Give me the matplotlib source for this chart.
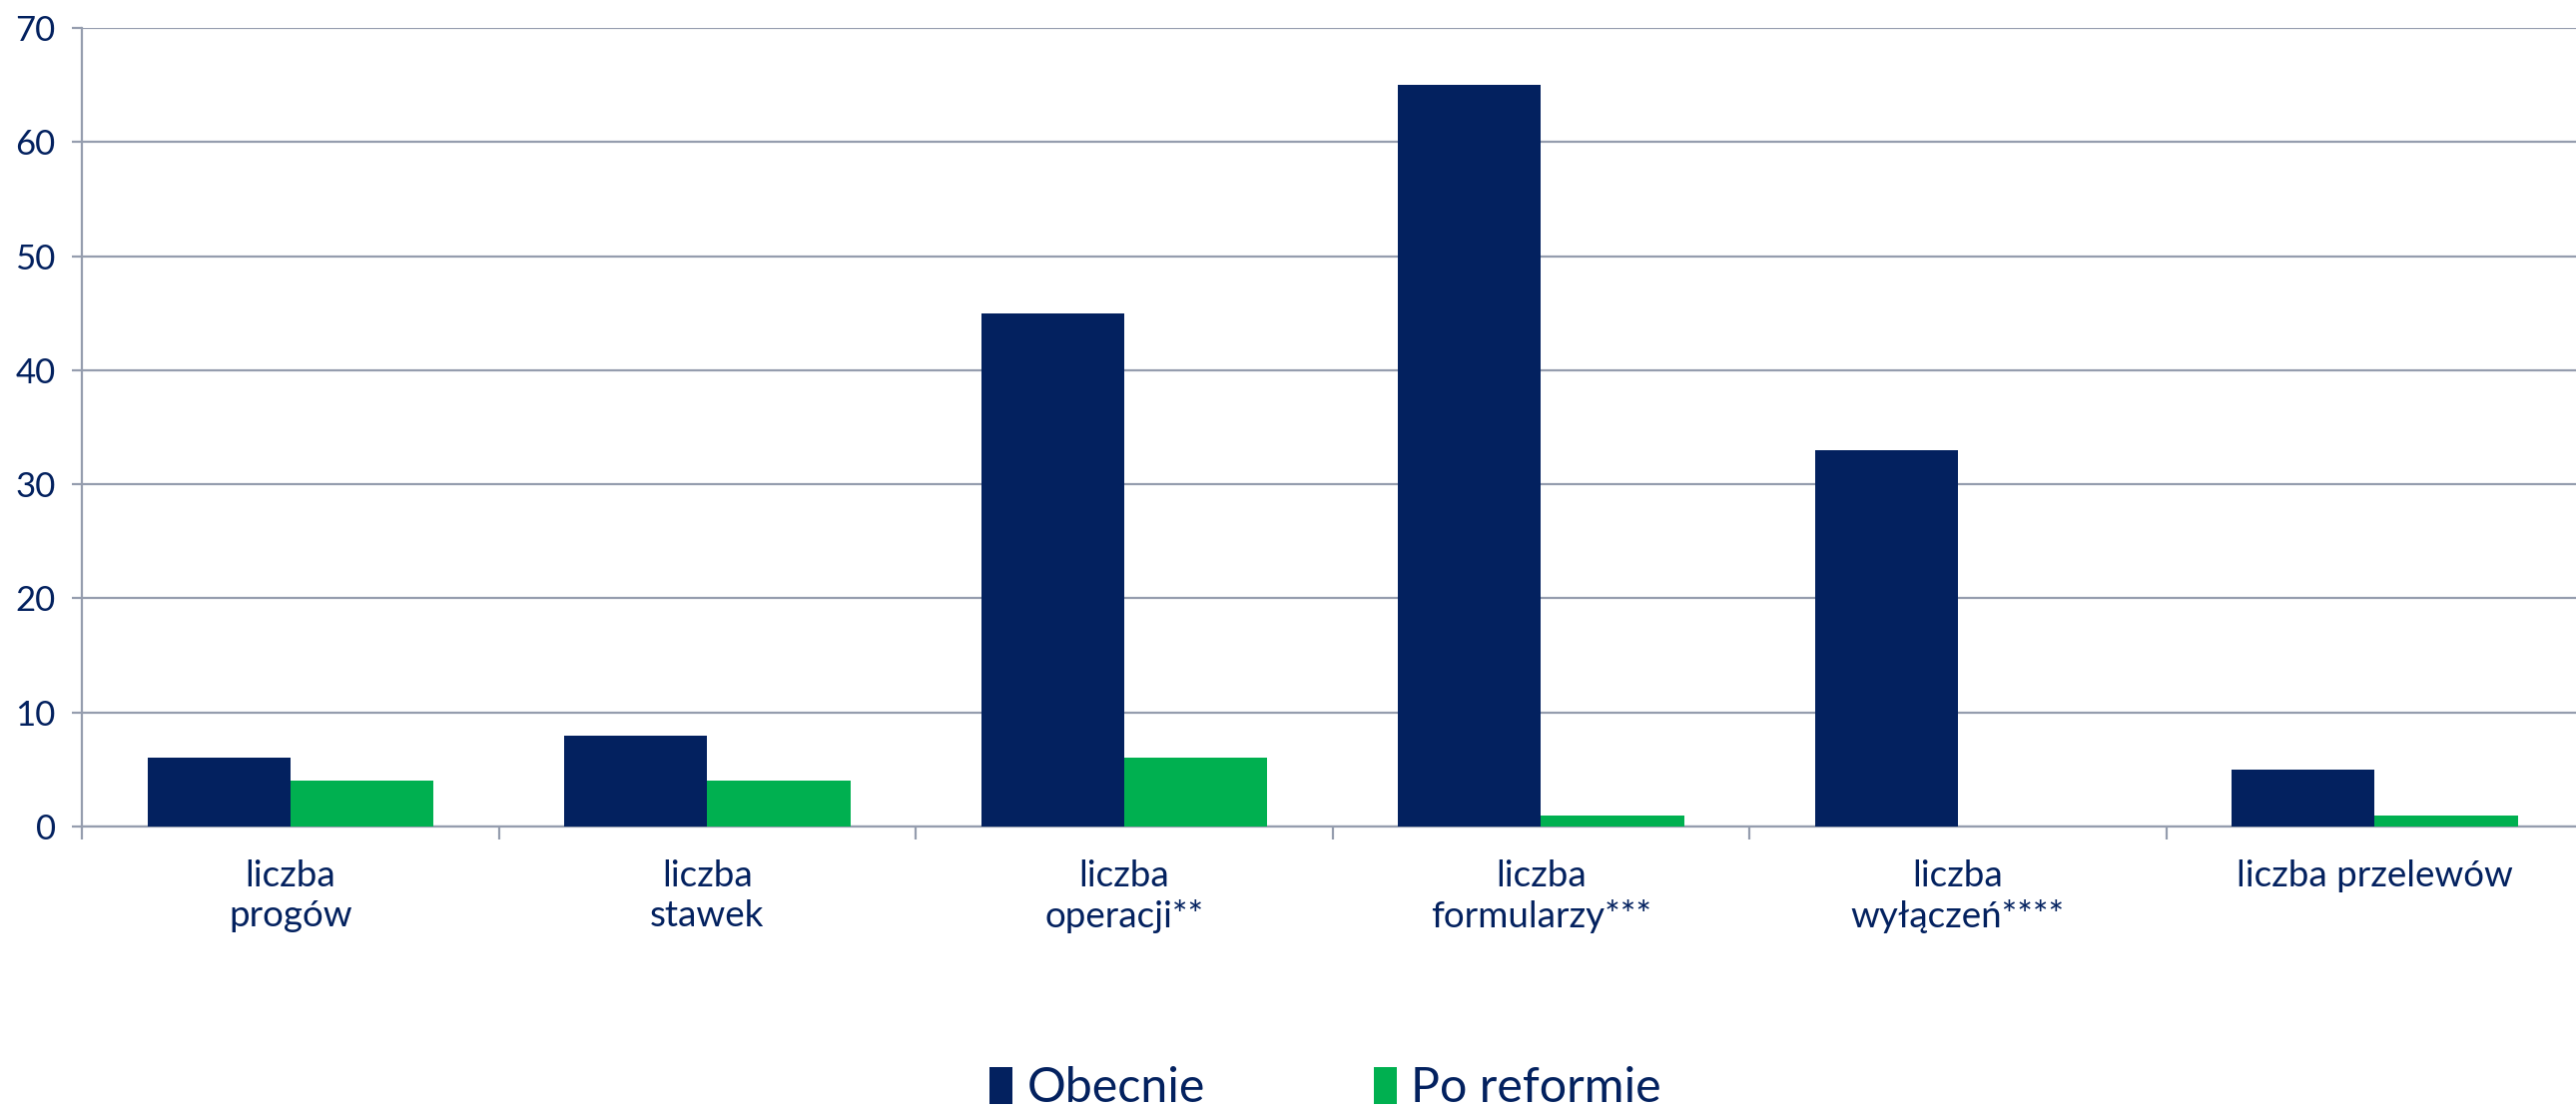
import matplotlib.pyplot as plt
import numpy as np

plt.rcParams['font.family'] = ['Lato', 'DejaVu Sans']

NAVY = '#03215F'
GREEN = '#00B050'
GRID = '#959DAE'

categories = ['liczba\nprogów', 'liczba\nstawek', 'liczba\noperacji**',
              'liczba\nformularzy***', 'liczba\nwyłączeń****', 'liczba przelewów']
obecnie = [6, 8, 45, 65, 33, 5]
po_reformie = [4, 4, 6, 1, 0, 1]
yticks = [0, 10, 20, 30, 40, 50, 60, 70]

fig = plt.figure(figsize=(25.8, 11.17), dpi=100)
ax = fig.add_axes([0.0318, 0.2587, 0.971, 0.7163])

x = np.arange(len(categories))
w = 0.343
b1 = ax.bar(x - w / 2, obecnie, w, color=NAVY, label='Obecnie', zorder=3)
b2 = ax.bar(x + w / 2, po_reformie, w, color=GREEN, label='Po reformie', zorder=3)

ax.set_xlim(-0.5, len(categories) - 0.5)
ax.set_ylim(0, 70)
ax.set_yticks(yticks)
ax.yaxis.grid(True, color=GRID, linewidth=1.6, zorder=0)
ax.set_axisbelow(True)

for side in ('top', 'right'):
    ax.spines[side].set_visible(False)
for side in ('left', 'bottom'):
    ax.spines[side].set_color(GRID)
    ax.spines[side].set_linewidth(1.6)

# category labels at centres, tick marks at the group boundaries
ax.set_xticks(x)
ax.set_xticklabels(categories, fontsize=26.5, color=NAVY, linespacing=1.25)
ax.set_xticks(np.arange(len(categories) + 1) - 0.5, minor=True)
ax.tick_params(axis='x', which='major', length=0, pad=24)
ax.tick_params(axis='x', which='minor', length=9, width=1.6, color=GRID, direction='out')
ax.tick_params(axis='y', length=7, width=1.6, color=GRID, pad=12,
               labelsize=25, labelcolor=NAVY)

leg = fig.legend(handles=[b1, b2], labels=['Obecnie', 'Po reformie'],
                 loc='center', bbox_to_anchor=(0.5145, 0.024), ncol=2,
                 frameon=False, fontsize=34.8, handlelength=0.47, handleheight=0.78,
                 handletextpad=0.3, columnspacing=3.5, labelcolor=NAVY)

fig.savefig('out.png', dpi=100, facecolor='white')
